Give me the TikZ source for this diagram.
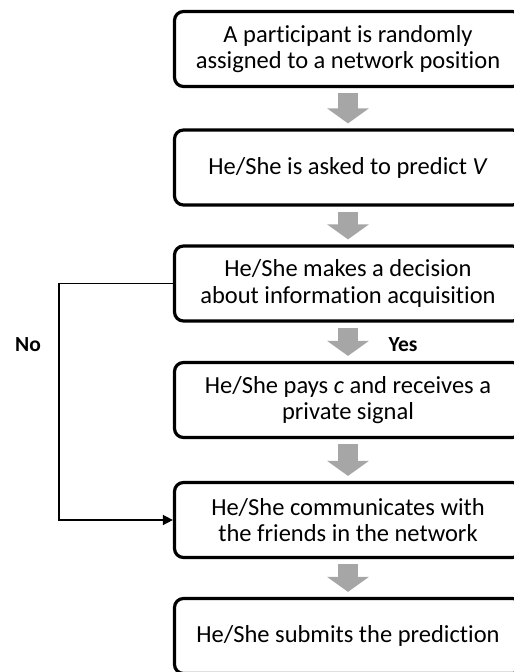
\documentclass[tikz,border=0pt]{standalone}
\usepackage{fontspec}
\setmainfont{Carlito}[Ligatures=NoCommon]
\usetikzlibrary{arrows.meta,calc}
\definecolor{arrowgray}{HTML}{A6A6A6}
\begin{document}
\begin{tikzpicture}[x=1pt,y=-1pt,
  stepbox/.style={draw=black, line width=3.2pt, rounded corners=9pt,
    minimum width=347pt, minimum height=75pt, align=center,
    font=\fontsize{24.5}{26.5}\selectfont, inner sep=0pt},
  flow/.style={draw=arrowgray, line width=20pt,
    -{Triangle[width=41pt,length=15pt]}, shorten <=5pt, shorten >=5pt},
  nolink/.style={draw=black, line width=1.5pt, -{Triangle[width=10pt,length=10pt]}},
  lbl/.style={font=\fontsize{21.5}{24}\selectfont\bfseries}]
\useasboundingbox (0,0) rectangle (514,672);
\clip (0,0) rectangle (514,672);
\node[stepbox] (b1) at (348,49) {A participant is randomly\\assigned to a network position};
\node[stepbox] (b2) at (348,167.5) {He/She is asked to predict \textit{V}};
\node[stepbox] (b3) at (348,283.5) {He/She makes a decision\\about information acquisition};
\node[stepbox] (b4) at (348,400) {He/She pays \textit{c} and receives a\\private signal};
\node[stepbox] (b5) at (348,520) {He/She communicates with\\the friends in the network};
\node[stepbox] (b6) at (348,636) {He/She submits the prediction};
\draw[flow] (b1.south) -- (b2.north);
\draw[flow] (b2.south) -- (b3.north);
\draw[flow] (b3.south) -- (b4.north);
\draw[flow] (b4.south) -- (b5.north);
\draw[flow] (b5.south) -- (b6.north);
\coordinate (c1) at (59,283.5);
\coordinate (c2) at (59,520);
\draw[nolink] (b3.west) -- (c1) -- (c2) -- (b5.west);
\node[lbl] (yes) at (403,345) {Yes};
\node[lbl] (no) at (28,345) {No};
\end{tikzpicture}
\end{document}
